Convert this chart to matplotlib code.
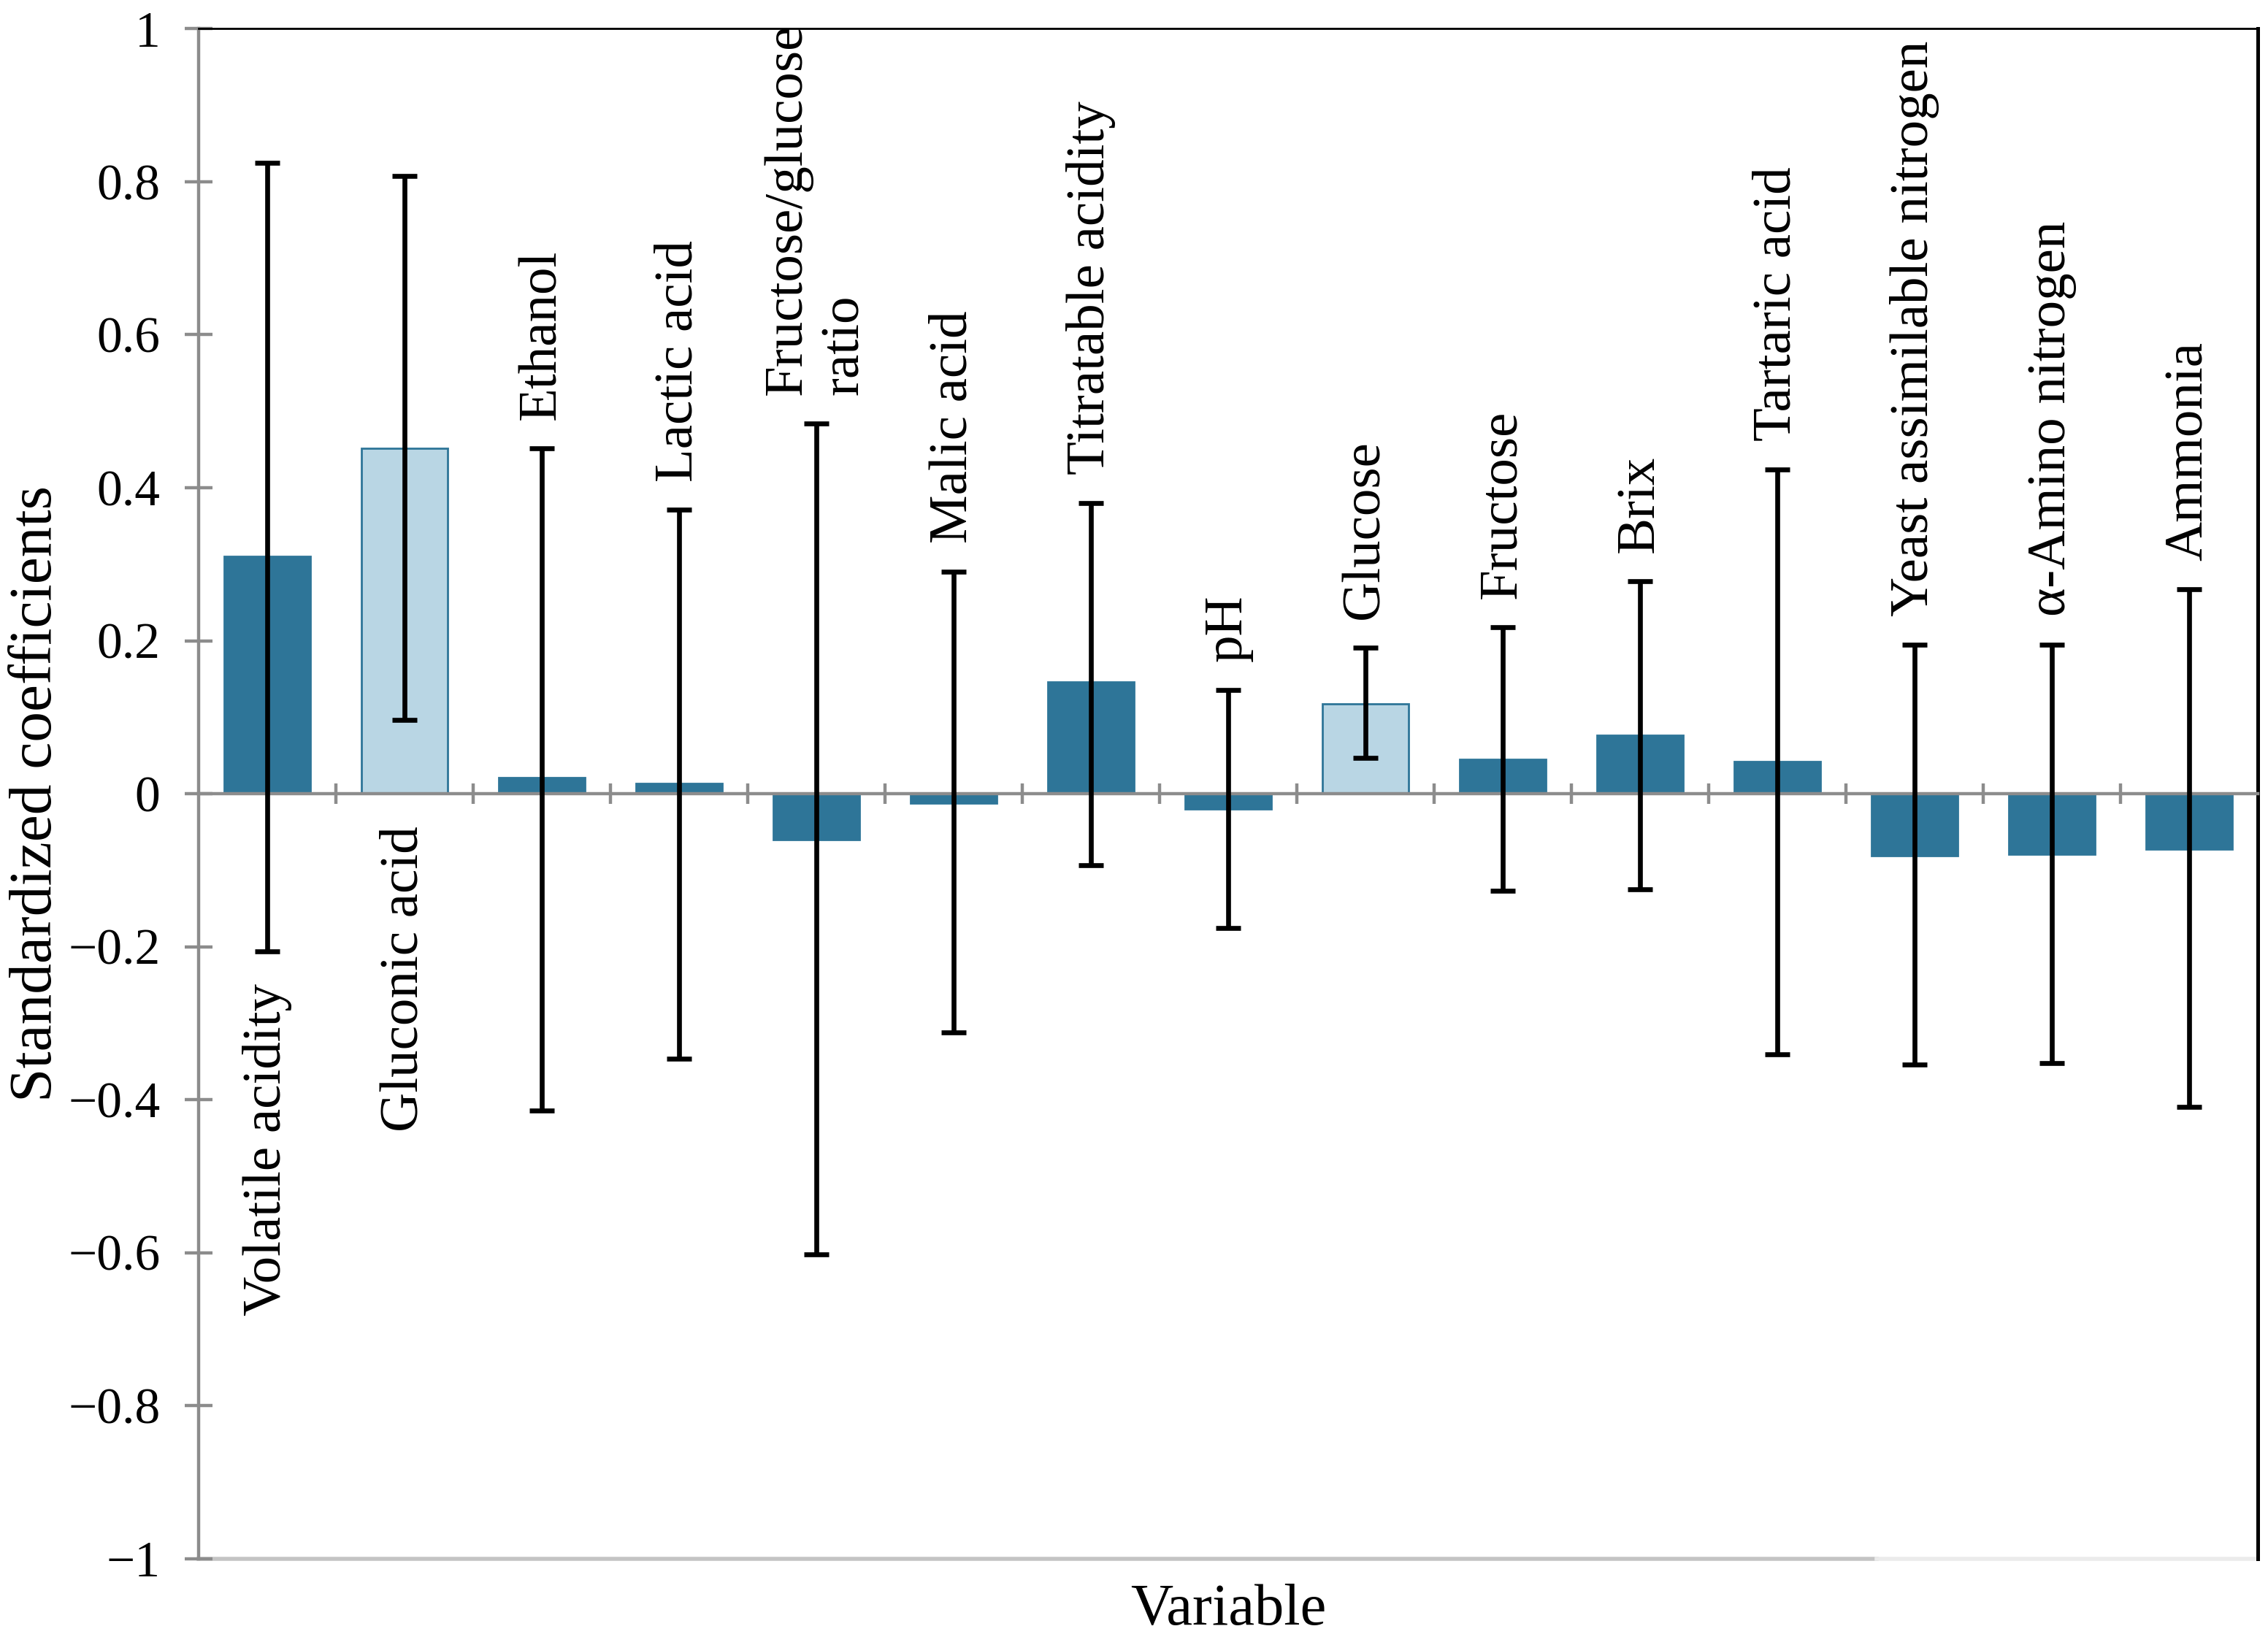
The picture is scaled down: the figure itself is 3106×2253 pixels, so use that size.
import numpy as np
import matplotlib.pyplot as plt

# ------------------------------------------
# data
# ------------------------------------------
variables = ["Volatile acidity", "Gluconic acid", "Ethanol", "Lactic acid",
             "Fructose/glucose\nratio", "Malic acid", "Titratable acidity", "pH",
             "Glucose", "Fructose", "Brix", "Tartaric acid",
             "Yeast assimilable nitrogen", "\u03b1-Amino nitrogen", "Ammonia"]

coef = [0.310, 0.452, 0.021, 0.013, -0.060, -0.012, 0.146, -0.020,
        0.117, 0.045, 0.076, 0.042, -0.081, -0.079, -0.072]

# ends of the error bars
err_high = [0.825, 0.808, 0.452, 0.371, 0.484, 0.290, 0.380, 0.136,
            0.191, 0.218, 0.278, 0.424, 0.195, 0.195, 0.267]
err_low = [-0.206, 0.096, -0.414, -0.346, -0.602, -0.312, -0.093, -0.176,
           0.047, -0.127, -0.125, -0.341, -0.354, -0.352, -0.409]

# light bars = significant variables
significant = [False, True, False, False, False, False, False, False,
               True, False, False, False, False, False, False]

# where the variable name sits: above the error bar or below
label_below = [True, True, False, False, False, False, False, False,
               False, False, False, False, False, False, False]

yticks = [-1, -0.8, -0.6, -0.4, -0.2, 0, 0.2, 0.4, 0.6, 0.8, 1]

# ------------------------------------------
# drawing
# ------------------------------------------
plt.rcParams['font.family'] = ['Liberation Serif', 'DejaVu Serif']
plt.rcParams['axes.unicode_minus'] = True

dark = '#2e7598'
light = '#b9d6e4'
grey = '#8c8c8c'

fig = plt.figure(figsize=(15.53, 11.265), dpi=200)
ax = fig.add_axes([0.0876, 0.0525, 0.9079, 0.9300])

x = np.arange(len(variables))
coef = np.array(coef)
err_high = np.array(err_high)
err_low = np.array(err_low)

colors = [light if s else dark for s in significant]
ax.bar(x, coef, width=0.63, color=colors, edgecolor=dark, linewidth=1.0, zorder=2)

yerr = np.vstack([coef - err_low, err_high - coef])
ax.errorbar(x, coef, yerr=yerr, fmt='none', ecolor='black', elinewidth=2.4,
            capsize=6, capthick=2.4, zorder=3)

for i, name in enumerate(variables):
    if label_below[i]:
        y0 = min(err_low[i], 0)
        ax.annotate(name, (x[i], y0), xytext=(0, -16), textcoords='offset points',
                    rotation=90, ha='center', va='top', fontsize=27,
                    multialignment='left')
    else:
        ax.annotate(name, (x[i], err_high[i]), xytext=(0, 14), textcoords='offset points',
                    rotation=90, ha='center', va='bottom', fontsize=27,
                    multialignment='left')

ax.set_xlim(-0.5, len(variables) - 0.5)
ax.set_ylim(-1, 1)
ax.set_yticks(yticks)
ax.set_yticklabels(['\u22121' if v == -1 else ('1' if v == 1 else
                    ('0' if v == 0 else f"{v:.1f}".replace('-', '\u2212')))
                    for v in yticks])

# x axis sits on the zero line, ticks between categories
ax.spines['bottom'].set_position(('data', 0))
ax.spines['bottom'].set_color(grey)
ax.spines['bottom'].set_linewidth(1.6)
ax.set_xticks(np.arange(0.5, len(variables) - 1, 1.0))
ax.set_xticklabels([])
ax.tick_params(axis='x', direction='inout', length=10, width=1.6, color=grey)

ax.spines['left'].set_color(grey)
ax.spines['left'].set_linewidth(1.6)
ax.tick_params(axis='y', direction='inout', length=14, width=1.6, color=grey,
               labelsize=25, pad=12)

ax.spines['top'].set_color('black')
ax.spines['top'].set_linewidth(1.0)
ax.spines['right'].set_color('black')
ax.spines['right'].set_linewidth(1.8)

# bottom frame line at -1
ax.plot([0, 0.815], [0, 0], transform=ax.transAxes, color='#c4c4c4',
        linewidth=2.0, clip_on=False, zorder=1)
ax.plot([0.815, 1], [0, 0], transform=ax.transAxes, color='#ebebeb',
        linewidth=2.0, clip_on=False, zorder=1)

ax.set_ylabel('Standardized coefficients', fontsize=30, labelpad=2)
fig.text(0.5415, 0.005, 'Variable', ha='center', va='bottom', fontsize=29)

fig.savefig('out.png', dpi=200, facecolor='white')
